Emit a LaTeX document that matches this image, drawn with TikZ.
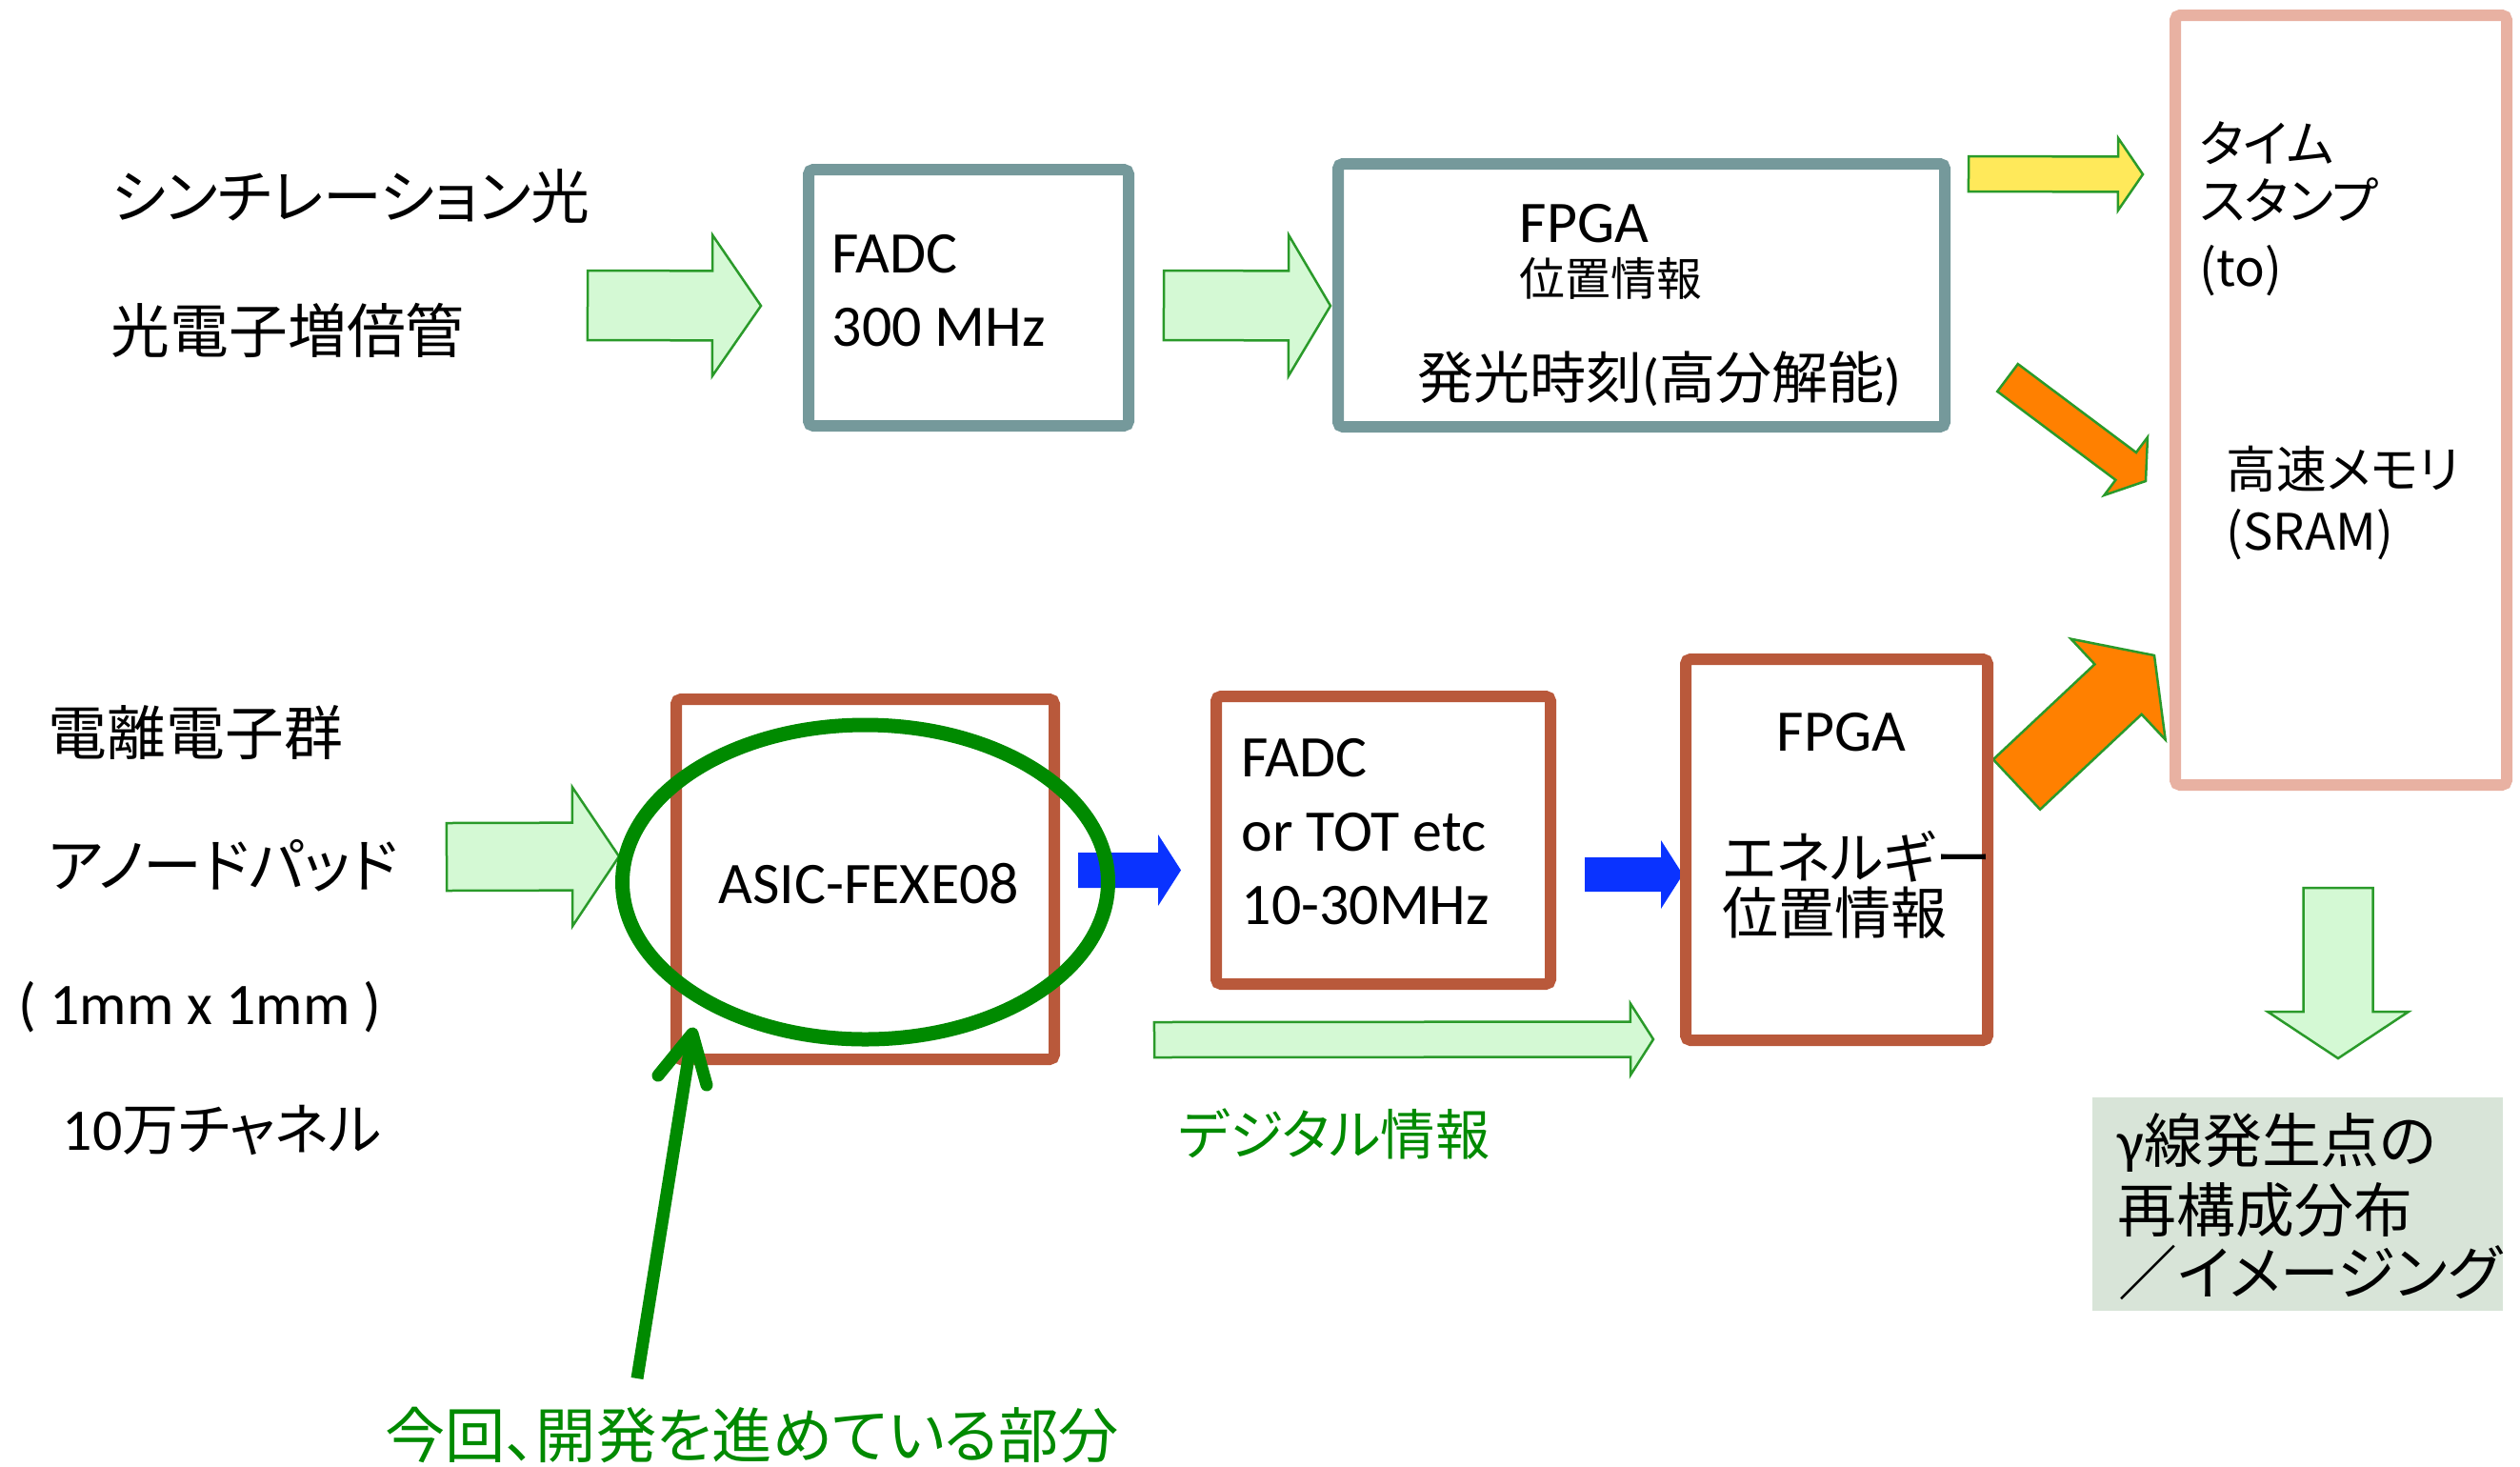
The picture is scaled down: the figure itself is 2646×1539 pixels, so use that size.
\documentclass[tikz,border=0pt]{standalone}
\usepackage{fontspec}
\setmainfont{Carlito}
\newfontfamily\jp[RawFeature=+palt]{Noto Sans CJK JP}
\usetikzlibrary{shapes.geometric}

\definecolor{tealb}{HTML}{75999B}
\definecolor{pinkb}{HTML}{E8B1A2}
\definecolor{brownb}{HTML}{B9593B}
\definecolor{lgreen}{HTML}{D4F9D4}
\definecolor{gline}{HTML}{2A9A2A}
\definecolor{yel}{HTML}{FFE95A}
\definecolor{orng}{HTML}{FF8000}
\definecolor{blu}{HTML}{0A33FF}
\definecolor{dgreen}{HTML}{008A00}
\definecolor{grayb}{HTML}{D8E4D8}

\newcommand\fsA{\fontsize{17.6pt}{21pt}\selectfont}
\newcommand\fsB{\fontsize{16.8pt}{20pt}\selectfont}
\newcommand\fsD{\fontsize{16.3pt}{20pt}\selectfont}
\newcommand\fsE{\fontsize{18pt}{21pt}\selectfont}
\newcommand\fsR{\fontsize{15pt}{18pt}\selectfont}
\newcommand\fsS{\fontsize{13.6pt}{16pt}\selectfont}

% block arrow: style, x1,y1 (tail centre), x2,y2 (tip), shaft width, head width, head length
\newcommand\blockarrow[8]{%
  \pgfmathsetmacro\baL{veclen(#4-#2,#5-#3)}%
  \pgfmathsetmacro\baA{atan2(#5-#3,#4-#2)}%
  \pgfmathsetmacro\baB{\baL-#8}%
  \begin{scope}[shift={(#2,#3)},rotate=-\baA]
    \path[#1] (0,-#6/2) -- (\baB,-#6/2) -- (\baB,-#7/2) -- (\baL,0)
      -- (\baB,#7/2) -- (\baB,#6/2) -- (0,#6/2) -- cycle;
  \end{scope}}

\begin{document}
\begin{tikzpicture}[x=0.1mm,y=-0.1mm,
  box/.style={draw, line width=1.2mm, rounded corners=0.5mm, inner sep=0},
  tealbox/.style={box, draw=tealb},
  pinkbox/.style={box, draw=pinkb},
  brownbox/.style={box, draw=brownb},
  garrow/.style={fill=lgreen, draw=gline, line width=0.25mm},
  yarrow/.style={fill=yel, draw=gline, line width=0.25mm},
  oarrow/.style={fill=orng, draw=gline, line width=0.25mm},
  barrow/.style={fill=blu},
  txt/.style={inner sep=0, anchor=base west, font=\fsA},
  jtxt/.style={inner sep=0, anchor=west, font=\fsA\jp},
  rtxt/.style={inner sep=0, anchor=west, font=\fsR\jp},
]
\fill[white, use as bounding box] (0,0) rectangle (2646,1539);

% ---- block arrows ----
\blockarrow{garrow}{617}{320.5}{799}{321}{73}{148}{51}
\blockarrow{garrow}{1222}{320.5}{1397}{321}{73}{148}{44}
\blockarrow{yarrow}{2067}{182.5}{2250}{183}{37}{76}{26}
\blockarrow{oarrow}{2108}{396.5}{2253}{505}{36}{76}{26}
\blockarrow{oarrow}{2117.5}{823.5}{2262}{688}{72}{145}{52}
\blockarrow{garrow}{469}{899.5}{650}{899}{71}{146}{49}
\blockarrow{barrow}{1132}{913.5}{1240}{913.5}{37}{75}{24}
\blockarrow{barrow}{1664}{918}{1767}{918}{36}{72}{23}
\blockarrow{garrow}{1212}{1091.5}{1736}{1091}{37}{75}{24}
\blockarrow{garrow}{2455}{932}{2455}{1111}{73}{148}{49}

% ---- boxes ----
\node[tealbox, minimum width=33.6mm, minimum height=26.9mm] (fadc1) at (1017,312.5) {};
\node[tealbox, minimum width=63.7mm, minimum height=27.6mm] (fpga1) at (1723.5,310) {};
\node[pinkbox, minimum width=34.8mm, minimum height=80.8mm] (mem) at (2458,420) {};
\node[brownbox, minimum width=39.7mm, minimum height=37.8mm] (asic) at (908.5,923) {};
\node[brownbox, minimum width=35.1mm, minimum height=30.2mm] (fadc2) at (1452.5,882) {};
\node[brownbox, minimum width=31.7mm, minimum height=40mm] (fpga2) at (1928.5,892) {};
\node[fill=grayb, inner sep=0, minimum width=43.1mm, minimum height=22.4mm] (result) at (2412.5,1264) {};

% ---- highlight ring and pointer ----
\node[draw=dgreen, line width=1.5mm, ellipse, inner sep=0,
      minimum width=51mm, minimum height=33mm] (ring) at (908.5,926) {};
\coordinate (ptrS) at (669,1447);
\coordinate (ptrT) at (727,1085);
\coordinate (ptrL) at (691,1129);
\coordinate (ptrR) at (742,1139);
\draw[dgreen, line width=1.3mm] (ptrS) -- (ptrT);
\draw[dgreen, line width=1.3mm, line cap=round, line join=round] (ptrL) -- (ptrT) -- (ptrR);

% ---- texts: top row ----
\node[jtxt] (scint) at (116,206) {シンチレーション光};
\node[jtxt] (pmt) at (116,346.5) {光電子増倍管};
\node[txt] (fadcA1) at (873,286) {FADC};
\node[txt] (fadcA2) at (873,363) {300 MHz};
\node[txt] (fpgaA1) at (1595,254) {FPGA};
\node[jtxt, font=\fsS\jp] (fpgaA2) at (1595,292.5) {位置情報};
\node[jtxt, font=\fsB\jp] (fpgaA3) at (1488,397.5) {発光時刻{\rmfamily(}高分解能{\rmfamily)}};

\node[rtxt] (ts1) at (2309,150.5) {タイム};
\node[rtxt] (ts2) at (2309,210) {スタンプ};
\node[rtxt] (ts3) at (2309,284) {(to)};
\node[rtxt] (sr1) at (2337,492.5) {高速メモリ};
\node[rtxt] (sr2) at (2337,561.5) {(SRAM)};

% ---- texts: bottom row ----
\node[jtxt] (ion) at (50,769) {電離電子群};
\node[jtxt] (pad) at (50,909) {アノードパッド};
\node[txt] (padsz) at (19,1075) {( 1mm x 1mm )};
\node[txt] (nch) at (65,1207) {10{\fsB\jp 万チャネル}};
\node[txt] (asict) at (754,948) {ASIC-FEXE08};
\node[txt] (fadcB1) at (1303,815) {FADC};
\node[txt] (fadcB2) at (1303,893) {or TOT etc};
\node[txt] (fadcB3) at (1303,970) {10-30MHz};
\node[txt] (fpgaB1) at (1865,788) {FPGA};
\node[jtxt, font=\fsB\jp] (fpgaB2) at (1808,899) {エネルギー};
\node[jtxt, font=\fsB\jp] (fpgaB3) at (1808,958) {位置情報};
\node[jtxt, font=\fsD\jp, text=dgreen] (digi) at (1237,1190) {デジタル情報};
\node[jtxt, font=\fsE\jp, text=dgreen] (dev) at (404,1507) {今回、開発を進めている部分};

\node[jtxt] (res1) at (2223,1199.5) {{\rmfamily γ}線発生点の};
\node[jtxt] (res2) at (2223,1270.5) {再構成分布};
\node[jtxt] (res3) at (2224,1335.5) {／イメージング};
\end{tikzpicture}
\end{document}
